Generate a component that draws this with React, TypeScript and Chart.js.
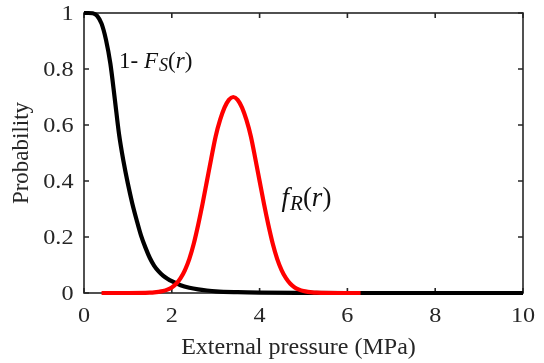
import React, { useEffect, useRef } from "react";
import { Chart, registerables } from "chart.js";

Chart.register(...registerables);

// 1 - F_S(r): survival curve of strength
const survivalX = [0, 0.1, 0.2, 0.3, 0.4, 0.5, 0.6, 0.7, 0.8, 0.9, 1.0, 1.1, 1.2, 1.3, 1.4, 1.5, 1.6, 1.7, 1.8, 1.9, 2.0, 2.2, 2.4, 2.6, 2.8, 3.0, 3.5, 4.0, 5.0, 6.0, 10];
const survivalY = [1, 1, 0.999, 0.99, 0.962, 0.905, 0.82, 0.695, 0.565, 0.47, 0.39, 0.32, 0.26, 0.205, 0.162, 0.125, 0.097, 0.077, 0.062, 0.051, 0.042, 0.028, 0.019, 0.013, 0.009, 0.006, 0.003, 0.0015, 0.0004, 0, 0];

// f_R(r): load density
const loadX = [0.4, 1.0, 1.4, 1.5, 1.6, 1.7, 1.8, 1.9, 2.0, 2.1, 2.2, 2.3, 2.4, 2.5, 2.6, 2.7, 2.8, 2.9, 3.0, 3.1, 3.2, 3.3, 3.4, 3.5, 3.6, 3.7, 3.8, 3.9, 4.0, 4.1, 4.2, 4.3, 4.4, 4.5, 4.6, 4.7, 4.8, 4.9, 5.0, 5.1, 5.2, 5.3, 5.4, 5.8, 6.3];
const loadY = [0, 0, 0.0005, 0.001, 0.002, 0.004, 0.007, 0.012, 0.02, 0.033, 0.053, 0.082, 0.122, 0.176, 0.243, 0.318, 0.4, 0.482, 0.56, 0.618, 0.662, 0.69, 0.7, 0.69, 0.662, 0.618, 0.56, 0.482, 0.4, 0.318, 0.243, 0.176, 0.122, 0.082, 0.053, 0.033, 0.02, 0.012, 0.007, 0.004, 0.002, 0.001, 0.0005, 0, 0];

const xTicks = [0, 2, 4, 6, 8, 10];
const yTicks = [0, 0.2, 0.4, 0.6, 0.8, 1];
const xTitle = "External pressure (MPa)";
const yTitle = "Probability";

const FONT = "'Liberation Serif', 'Times New Roman', serif";
const TEXT_COLOR = "#262626";
const TICK_SIZE = 20.5;
const TICK_STRETCH = 1.18;

type Run = { t: string; italic?: boolean; sub?: boolean };

const survivalLabel: Run[] = [
  { t: "1- " },
  { t: "F", italic: true },
  { t: "S", italic: true, sub: true },
  { t: "(" },
  { t: "r", italic: true },
  { t: ")" },
];
const loadLabel: Run[] = [
  { t: "f", italic: true },
  { t: "R", italic: true, sub: true },
  { t: "(" },
  { t: "r", italic: true },
  { t: ")" },
];

function drawRuns(ctx: CanvasRenderingContext2D, x: number, y: number, runs: Run[], size: number) {
  let cx = x;
  for (const r of runs) {
    const fs = r.sub ? Math.round(size * 0.78) : size;
    ctx.font = `${r.italic ? "italic " : ""}${fs}px ${FONT}`;
    const dy = r.sub ? size * 0.14 : 0;
    ctx.fillText(r.t, cx, y + dy);
    cx += ctx.measureText(r.t).width + (r.t === "F" || r.t === "f" ? 1 : 0);
  }
}

const framePlugin = {
  id: "frameTicks",
  beforeDatasetsDraw(chart: any) {
    const { ctx, chartArea, scales } = chart;
    const { left, right, top, bottom } = chartArea;
    ctx.save();
    ctx.strokeStyle = TEXT_COLOR;
    ctx.lineWidth = 1.6;
    ctx.strokeRect(left, top, right - left, bottom - top);
    const len = 5;
    ctx.beginPath();
    for (const t of scales.x.ticks) {
      const px = scales.x.getPixelForValue(t.value);
      ctx.moveTo(px, bottom);
      ctx.lineTo(px, bottom - len);
      ctx.moveTo(px, top);
      ctx.lineTo(px, top + len);
    }
    for (const t of scales.y.ticks) {
      const py = scales.y.getPixelForValue(t.value);
      ctx.moveTo(left, py);
      ctx.lineTo(left + len, py);
      ctx.moveTo(right, py);
      ctx.lineTo(right - len, py);
    }
    ctx.stroke();

    // tick labels (slightly wide glyphs as in the original figure)
    ctx.fillStyle = TEXT_COLOR;
    ctx.font = `${TICK_SIZE}px ${FONT}`;
    ctx.textBaseline = "alphabetic";
    for (const t of scales.x.ticks) {
      const px = scales.x.getPixelForValue(t.value);
      ctx.save();
      ctx.translate(px, bottom + 29);
      ctx.scale(TICK_STRETCH, 1);
      ctx.textAlign = "center";
      ctx.fillText(String(t.value), 0, 0);
      ctx.restore();
    }
    for (const t of scales.y.ticks) {
      const py = scales.y.getPixelForValue(t.value);
      ctx.save();
      ctx.translate(left - 10.5, py + 7.3);
      ctx.scale(TICK_STRETCH, 1);
      ctx.textAlign = "right";
      ctx.fillText(String(t.value), 0, 0);
      ctx.restore();
    }

    // x-axis title
    ctx.font = `24px ${FONT}`;
    ctx.textAlign = "center";
    ctx.fillText(xTitle, (left + right) / 2 - 5, bottom + 61);
    ctx.restore();
  },
  afterDatasetsDraw(chart: any) {
    const { ctx, scales } = chart;
    ctx.save();
    ctx.fillStyle = "#111111";
    ctx.textBaseline = "alphabetic";
    ctx.textAlign = "left";
    drawRuns(ctx, scales.x.getPixelForValue(0.8), scales.y.getPixelForValue(0.805), survivalLabel, 23);
    drawRuns(ctx, scales.x.getPixelForValue(4.5), scales.y.getPixelForValue(0.311), loadLabel, 27);
    ctx.restore();
  },
};

export default function App() {
  const ref = useRef<HTMLCanvasElement | null>(null);

  useEffect(() => {
    if (!ref.current) return;
    const chart = new Chart(ref.current, {
      type: "line",
      data: {
        datasets: [
          {
            label: "f_R(r)",
            data: loadX.map((x, i) => ({ x, y: loadY[i] })),
            borderColor: "#ff0000",
            borderWidth: 4.2,
            pointRadius: 0,
            cubicInterpolationMode: "monotone",
            clip: false as any,
            order: 0,
          },
          {
            label: "1-F_S(r)",
            data: survivalX.map((x, i) => ({ x, y: survivalY[i] })),
            borderColor: "#000000",
            borderWidth: 4.2,
            pointRadius: 0,
            cubicInterpolationMode: "monotone",
            clip: false as any,
            order: 1,
          },
        ],
      },
      options: {
        animation: false,
        responsive: true,
        maintainAspectRatio: false,
        layout: { padding: { top: 13, right: 21, left: 0, bottom: 0 } },
        plugins: { legend: { display: false }, tooltip: { enabled: false } },
        scales: {
          x: {
            type: "linear",
            min: 0,
            max: 10,
            afterBuildTicks: (s: any) => {
              s.ticks = xTicks.map((v) => ({ value: v }));
            },
            ticks: { display: false },
            grid: { display: false, drawTicks: false },
            border: { display: false },
            title: { display: false },
            afterFit: (s: any) => {
              s.height = 70;
            },
          },
          y: {
            type: "linear",
            min: 0,
            max: 1,
            afterBuildTicks: (s: any) => {
              s.ticks = yTicks.map((v) => ({ value: v }));
            },
            ticks: { display: false },
            grid: { display: false, drawTicks: false },
            border: { display: false },
            title: {
              display: true,
              text: yTitle,
              font: { family: FONT, size: 23 },
              color: TEXT_COLOR,
              padding: { top: 8.5, bottom: 0 },
            },
            afterFit: (s: any) => {
              s.width = 84;
            },
          },
        },
      },
      plugins: [framePlugin],
    });
    return () => chart.destroy();
  }, []);

  return (
    <div style={{ position: "absolute", left: 0, top: 0, width: 544, height: 363, background: "#fff" }}>
      <canvas ref={ref} />
    </div>
  );
}
